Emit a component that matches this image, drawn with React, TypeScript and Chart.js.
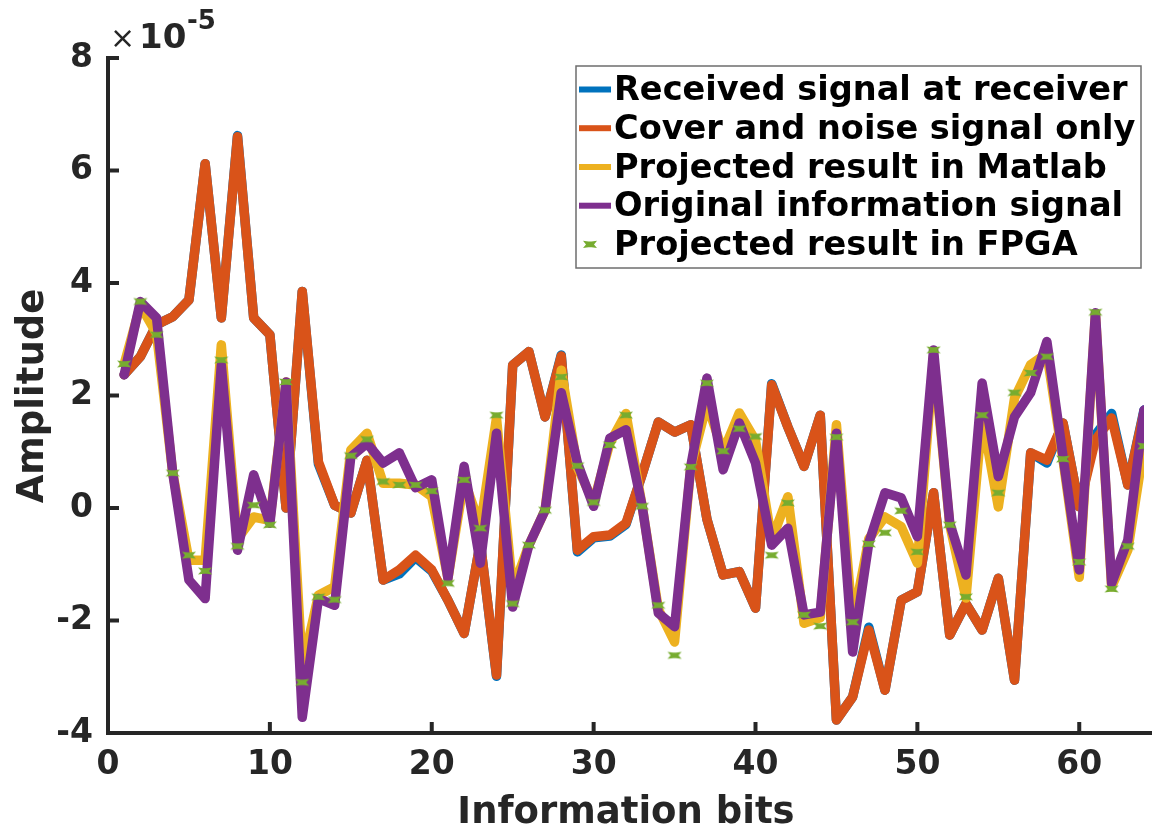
import React, { useEffect, useRef } from 'react';
import { Chart, registerables } from 'chart.js';

Chart.register(...registerables);

// Information bits (x values)
const bits = [
  1, 2, 3, 4, 5, 6, 7, 8, 9, 10, 11, 12, 13, 14, 15, 16,
  17, 18, 19, 20, 21, 22, 23, 24, 25, 26, 27, 28, 29, 30, 31, 32,
  33, 34, 35, 36, 37, 38, 39, 40, 41, 42, 43, 44, 45, 46, 47, 48,
  49, 50, 51, 52, 53, 54, 55, 56, 57, 58, 59, 60, 61, 62, 63, 64,
];

// Amplitudes in units of 1e-5
const receivedSignal = [
  2.37, 2.69, 3.26, 3.40, 3.70, 6.12, 3.38, 6.62, 3.38, 3.08, 0.00, 3.85, 0.78, 0.05, -0.09, 0.85,
  -1.28, -1.17, -0.88, -1.12, -1.64, -2.23, -0.62, -2.99, 2.54, 2.78, 1.62, 2.72, -0.78, -0.53, -0.50, -0.29,
  0.60, 1.53, 1.35, 1.48, -0.20, -1.19, -1.13, -1.78, 2.21, 1.44, 0.74, 1.65, -3.77, -3.36, -2.12, -3.24,
  -1.64, -1.49, 0.27, -2.26, -1.70, -2.17, -1.25, -3.06, 0.98, 0.80, 1.51, 0.02, 1.30, 1.68, 0.41, 1.74,
];

const coverNoise = [
  2.37, 2.69, 3.26, 3.40, 3.70, 6.12, 3.38, 6.60, 3.38, 3.08, 0.00, 3.85, 0.82, 0.05, -0.09, 0.85,
  -1.28, -1.10, -0.84, -1.10, -1.64, -2.23, -0.62, -2.97, 2.54, 2.78, 1.62, 2.70, -0.75, -0.51, -0.48, -0.27,
  0.60, 1.53, 1.35, 1.48, -0.20, -1.19, -1.13, -1.78, 2.19, 1.44, 0.74, 1.65, -3.77, -3.36, -2.17, -3.24,
  -1.64, -1.49, 0.27, -2.26, -1.70, -2.17, -1.25, -3.06, 0.98, 0.85, 1.51, 0.02, 1.21, 1.60, 0.41, 1.71,
];

const matlabProjected = [
  2.56, 3.60, 3.10, 0.62, -0.93, -0.93, 2.90, -0.55, -0.16, -0.22, 2.24, -2.85, -1.55, -1.40, 1.03, 1.33,
  0.44, 0.44, 0.41, 0.20, -1.25, 0.50, -0.33, 1.60, -1.45, -0.66, -0.04, 2.45, 0.72, 0.10, 1.15, 1.68,
  0.03, -1.80, -2.38, 0.73, 1.85, 1.00, 1.69, 1.20, -0.57, 0.20, -2.05, -1.95, 1.48, -2.05, -0.55, -0.16,
  -0.33, -0.98, 2.70, -0.30, -1.60, 1.62, 0.02, 1.95, 2.55, 2.75, 0.85, -1.23, 3.45, -1.40, -0.75, 1.10,
];

const originalInfo = [
  2.37, 3.67, 3.38, 0.62, -1.28, -1.61, 2.54, -0.75, 0.59, -0.27, 2.24, -3.72, -1.61, -1.73, 0.91, 1.15,
  0.80, 0.98, 0.36, 0.50, -1.25, 0.74, -0.98, 1.33, -1.76, -0.66, -0.04, 2.05, 0.80, 0.03, 1.24, 1.39,
  0.03, -1.87, -2.11, 0.74, 2.31, 0.68, 1.51, 0.80, -0.66, -0.36, -1.90, -1.85, 1.33, -2.56, -0.62, 0.27,
  0.18, -0.51, 2.81, -0.27, -1.19, 2.22, 0.56, 1.62, 2.05, 2.96, 0.91, -1.10, 3.47, -1.34, -0.57, 1.74,
];

const fpgaProjected = [
  2.56, 3.67, 3.08, 0.62, -0.84, -1.12, 2.63, -0.68, 0.05, -0.30, 2.24, -3.10, -1.58, -1.63, 0.93, 1.22,
  0.47, 0.41, 0.41, 0.30, -1.34, 0.50, -0.36, 1.65, -1.70, -0.66, -0.04, 2.33, 0.75, 0.10, 1.12, 1.65,
  0.03, -1.73, -2.62, 0.73, 2.22, 1.01, 1.41, 1.27, -0.84, 0.09, -1.90, -2.10, 1.26, -2.03, -0.64, -0.44,
  -0.05, -0.78, 2.81, -0.30, -1.58, 1.65, 0.27, 2.05, 2.40, 2.69, 0.87, -0.96, 3.48, -1.44, -0.68, 1.10,
];

const xTickValues = [0, 10, 20, 30, 40, 50, 60];
const yTickValues = [-4, -2, 0, 2, 4, 6, 8];

const seriesNames = [
  'Received signal at receiver',
  'Cover and noise signal only',
  'Projected result in Matlab',
  'Original information signal',
  'Projected result in FPGA',
];
const seriesColors = ['#0072BD', '#D95319', '#EDB120', '#7E2F8E', '#77AC30'];

const FONT = "'DejaVu Sans', 'Liberation Sans', sans-serif";
const AXIS_COLOR = '#262626';

function toPoints(ys: number[]) {
  return bits.map((b, i) => ({ x: b, y: ys[i] }));
}

function drawMarkerShape(ctx: CanvasRenderingContext2D, cx: number, cy: number) {
  const w = 7, h = 3.6, n = 3;
  ctx.beginPath();
  ctx.moveTo(cx - w, cy - h);
  ctx.lineTo(cx - 1.5, cy - h + 0.8);
  ctx.lineTo(cx + 1.5, cy - h + 0.8);
  ctx.lineTo(cx + w, cy - h);
  ctx.lineTo(cx + w - n, cy);
  ctx.lineTo(cx + w, cy + h);
  ctx.lineTo(cx + 1.5, cy + h - 0.8);
  ctx.lineTo(cx - 1.5, cy + h - 0.8);
  ctx.lineTo(cx - w, cy + h);
  ctx.lineTo(cx - w + n, cy);
  ctx.closePath();
  ctx.fill();
}

function makeMarker(color: string) {
  const c = document.createElement('canvas');
  c.width = 16;
  c.height = 10;
  const g = c.getContext('2d')!;
  g.fillStyle = color;
  drawMarkerShape(g, 8, 5);
  return c;
}

export default function App() {
  const ref = useRef<HTMLCanvasElement>(null);

  useEffect(() => {
    const canvas = ref.current;
    if (!canvas) return;

    const overlay = {
      id: 'overlay',
      afterDraw(chart: any) {
        const { ctx, chartArea: ca, scales } = chart;
        const xs = scales.x;
        const ys = scales.y;
        ctx.save();

        // axes lines
        ctx.strokeStyle = AXIS_COLOR;
        ctx.lineWidth = 4;
        ctx.lineCap = 'square';
        ctx.beginPath();
        ctx.moveTo(ca.left, ys.getPixelForValue(8));
        ctx.lineTo(ca.left, ca.bottom);
        ctx.lineTo(1150, ca.bottom);
        ctx.stroke();

        // inward ticks
        ctx.lineCap = 'butt';
        ctx.lineWidth = 4;
        ctx.beginPath();
        yTickValues.forEach((v) => {
          const y = ys.getPixelForValue(v);
          ctx.moveTo(ca.left, y);
          ctx.lineTo(ca.left + 11, y);
        });
        xTickValues.forEach((v) => {
          const x = xs.getPixelForValue(v);
          ctx.moveTo(x, ca.bottom);
          ctx.lineTo(x, ca.bottom - 11);
        });
        ctx.stroke();

        // exponent multiplier
        ctx.fillStyle = AXIS_COLOR;
        ctx.textBaseline = 'alphabetic';
        ctx.textAlign = 'left';
        ctx.font = `normal 30px ${FONT}`;
        ctx.fillText('\u00d7', 110, 48);
        ctx.font = `bold 34px ${FONT}`;
        ctx.fillText('10', 139, 48);
        ctx.font = `bold 26px ${FONT}`;
        ctx.fillText('-5', 187, 29);

        // axis titles
        ctx.font = `bold 37px ${FONT}`;
        ctx.textAlign = 'center';
        ctx.fillText('Information bits', (ca.left + ca.right) / 2, 823);
        ctx.save();
        ctx.translate(43, 396);
        ctx.rotate(-Math.PI / 2);
        ctx.fillText('Amplitude', 0, 0);
        ctx.restore();

        // legend
        const bx = 576, by = 66, bw = 565, bh = 202;
        ctx.fillStyle = '#ffffff';
        ctx.fillRect(bx, by, bw, bh);
        ctx.strokeStyle = '#6e6e6e';
        ctx.lineWidth = 1.5;
        ctx.strokeRect(bx, by, bw, bh);
        const rowY = [89.5, 128.2, 167, 205.7, 244.4];
        ctx.font = `bold 33.6px ${FONT}`;
        ctx.textAlign = 'left';
        ctx.textBaseline = 'middle';
        seriesNames.forEach((name, i) => {
          const y = rowY[i];
          if (i < 4) {
            ctx.strokeStyle = seriesColors[i];
            ctx.lineWidth = 6;
            ctx.beginPath();
            ctx.moveTo(579, y);
            ctx.lineTo(611, y);
            ctx.stroke();
          } else {
            ctx.fillStyle = seriesColors[i];
            drawMarkerShape(ctx, 590, y);
          }
          ctx.fillStyle = '#000000';
          ctx.fillText(name, 614, y + 2);
        });

        ctx.restore();
      },
    };

    const lineDs = (label: string, data: number[], color: string, order: number) => ({
      label,
      data: toPoints(data),
      borderColor: color,
      backgroundColor: color,
      borderWidth: 9.5,
      pointRadius: 0,
      borderJoinStyle: 'round' as const,
      borderCapStyle: 'round' as const,
      tension: 0,
      order,
    });

    const marker = makeMarker(seriesColors[4]);

    const chart = new Chart(canvas, {
      type: 'line',
      data: {
        datasets: [
          lineDs(seriesNames[0], receivedSignal, seriesColors[0], 5),
          lineDs(seriesNames[1], coverNoise, seriesColors[1], 4),
          lineDs(seriesNames[2], matlabProjected, seriesColors[2], 3),
          lineDs(seriesNames[3], originalInfo, seriesColors[3], 2),
          {
            label: seriesNames[4],
            data: toPoints(fpgaProjected),
            showLine: false,
            borderColor: seriesColors[4],
            backgroundColor: seriesColors[4],
            pointStyle: marker,
            pointRadius: 7,
            order: 1,
          } as any,
        ],
      },
      options: {
        animation: false,
        responsive: false,
        devicePixelRatio: 1,
        layout: { padding: { top: 58, right: 4, left: 0, bottom: 0 } },
        plugins: {
          legend: { display: false },
          tooltip: { enabled: false },
        },
        scales: {
          x: {
            type: 'linear',
            min: 0,
            max: 64,
            grid: { display: false, drawTicks: false },
            border: { display: false },
            afterBuildTicks: (s: any) => {
              s.ticks = xTickValues.map((v) => ({ value: v }));
            },
            afterFit: (s: any) => {
              s.height = 98;
            },
            ticks: {
              padding: 13,
              color: AXIS_COLOR,
              font: { family: FONT, weight: 'bold', size: 33 },
              maxRotation: 0,
              autoSkip: false,
            },
          },
          y: {
            type: 'linear',
            min: -4,
            max: 8,
            grid: { display: false, drawTicks: false },
            border: { display: false },
            afterBuildTicks: (s: any) => {
              s.ticks = yTickValues.map((v) => ({ value: v }));
            },
            afterFit: (s: any) => {
              s.width = 108;
            },
            ticks: {
              padding: 15,
              color: AXIS_COLOR,
              font: { family: FONT, weight: 'bold', size: 33 },
            },
          },
        },
      },
      plugins: [overlay],
    });

    return () => chart.destroy();
  }, []);

  return (
    <div style={{ position: 'fixed', left: 0, top: 0, width: 1152, height: 831, background: '#fff' }}>
      <canvas ref={ref} width={1152} height={831} style={{ display: 'block', width: 1152, height: 831 }} />
    </div>
  );
}
